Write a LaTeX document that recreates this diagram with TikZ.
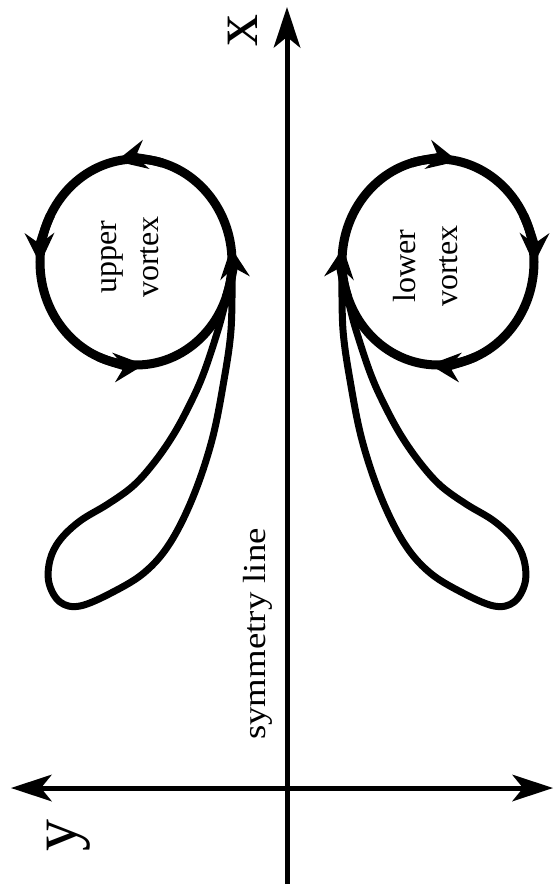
\documentclass[tikz,border=0pt]{standalone}
\usepackage{fontspec}
\setmainfont{Liberation Serif}
\usetikzlibrary{arrows.meta}

\begin{document}
\begin{tikzpicture}[x=1pt,y=-1pt,
    axtip/.tip={Stealth[length=41pt,width=27pt,inset=11pt,line width=0pt]},
    flowtip/.tip={Stealth[length=31pt,width=30pt,inset=11pt,line width=0pt]},
    axis/.style={line width=5pt},
    flow/.style={line width=9pt},
    lobe/.style={line width=7pt,line join=round},
    lbl/.style={font=\fontsize{32}{42}\selectfont,rotate=90,align=center,inner sep=0pt},
    axlbl/.style={font=\fontsize{64}{64}\selectfont,rotate=90,inner sep=0pt}]
  \useasboundingbox (0,0) rectangle (554,884);
  % axes
  \coordinate (xbot) at (287,884);
  \coordinate (xtop) at (287,7);
  \coordinate (yleft) at (11,788);
  \coordinate (yright) at (553,788);
  \draw[axis,-axtip] (xbot) -- (xtop);
  \draw[axis,axtip-axtip] (yleft) -- (yright);
  \node[axlbl] (xlab) at (243,30) {x};
  \node[axlbl] (ylab) at (69,835) {y};
  \node[lbl,xscale=1.15] (sym) at (258,634) {symmetry line};
  % vortices, the lower one mirrored about the symmetry line
  \foreach \m in {1,-1} {
    \begin{scope}[shift={(287,0)},xscale=\m,shift={(-287,0)}]
      \coordinate (eye) at (136,262);
      \draw[flow] (eye) ++(96,0) arc[start angle=0,end angle=-360,x radius=96,y radius=103];
      \foreach \a in {8,102,181,275}
        \draw[flow,-flowtip] (eye) ++({28-\a}:96 and 103)
          arc[start angle={28-\a},end angle=-\a,x radius=96,y radius=103];
      \draw[lobe] plot[smooth,tension=0.6] coordinates {(232,278) (231,330) (224,380) (212,440)
        (193,497) (170,543) (145,572) (113,592) (80,606) (60,602) (49,583) (50,560) (60,540)
        (80,521) (108,504) (133,486) (153,464) (172,437) (188,408) (203,375) (218,330) (226,300)
        (232,278)};
    \end{scope}
  }
  \node[lbl] (uplab) at (130,257) {upper\\vortex};
  \node[lbl] (lowlab) at (426,266) {lower\\vortex};
\end{tikzpicture}
\end{document}
